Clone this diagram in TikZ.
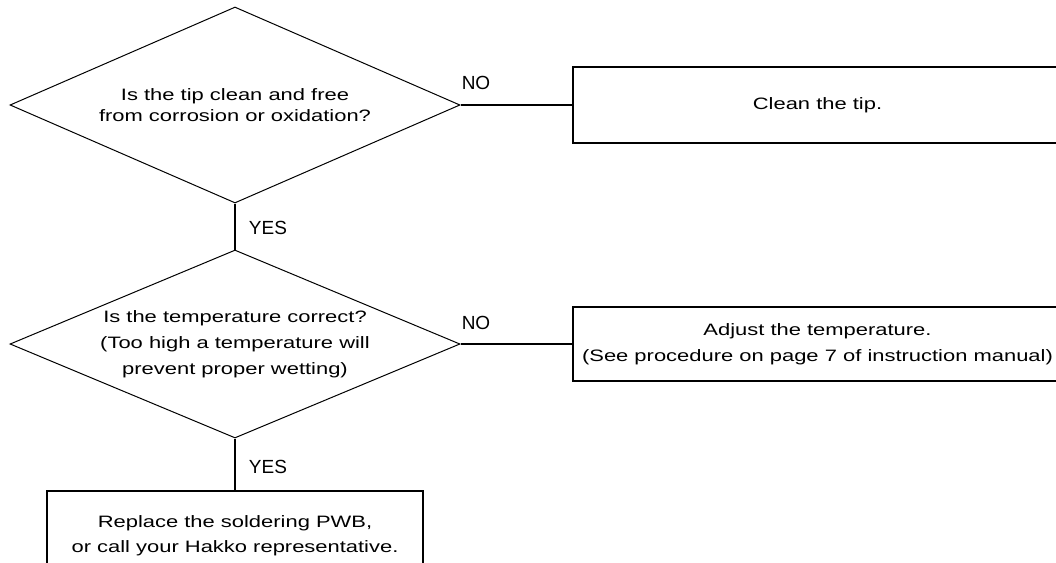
\documentclass[tikz,border=0pt]{standalone}
\usepackage{fontspec}
\setmainfont{Liberation Sans}
\newfontfamily\chartfont[FakeStretch=1.33]{Liberation Sans}
\usetikzlibrary{shapes.geometric}
\begin{document}
\begin{tikzpicture}[x=1pt,y=-1pt,
    question/.style = {diamond, draw, line width=1pt, inner sep=0pt, minimum width=450pt, align=center, font=\chartfont\fontsize{16.5}{26}\selectfont},
    action/.style = {rectangle, draw, line width=1.3pt, inner sep=0pt, align=center, font=\chartfont\fontsize{16.5}{25.5}\selectfont},
    answer/.style = {inner sep=0pt, font=\fontsize{19}{19}\selectfont},
    link/.style = {line width=1.2pt}]
    \path[use as bounding box, clip] (0,0) rectangle (1056,562);
    \node[question, aspect=2.296, minimum height=196pt, font=\chartfont\fontsize{16.5}{21}\selectfont] (tip) at (235,105) {Is the tip clean and free\\from corrosion or oxidation?};
    \node[action, minimum width=489pt, minimum height=76pt] (clean) at (817.5,105) {Clean the tip.};
    \node[question, aspect=2.394, minimum height=188pt] (temp) at (235,344) {Is the temperature correct?\\(Too high a temperature will\\prevent proper wetting)};
    \node[action, minimum width=489pt, minimum height=74pt] (adjust) at (817.5,344) {Adjust the temperature.\\(See procedure on page 7 of instruction manual)};
    \node[action, minimum width=376pt, minimum height=89pt] (replace) at (235,535.5) {Replace the soldering PWB,\\or call your Hakko representative.};
    \draw[link] (tip.east) -- (clean.west);
    \draw[link] (tip.south) -- (temp.north);
    \draw[link] (temp.east) -- (adjust.west);
    \draw[link] (temp.south) -- (replace.north);
    \node[answer] (no1) at (476,83) {NO};
    \node[answer] (yes1) at (268,228) {YES};
    \node[answer] (no2) at (476,323) {NO};
    \node[answer] (yes2) at (268,467) {YES};
\end{tikzpicture}
\end{document}
